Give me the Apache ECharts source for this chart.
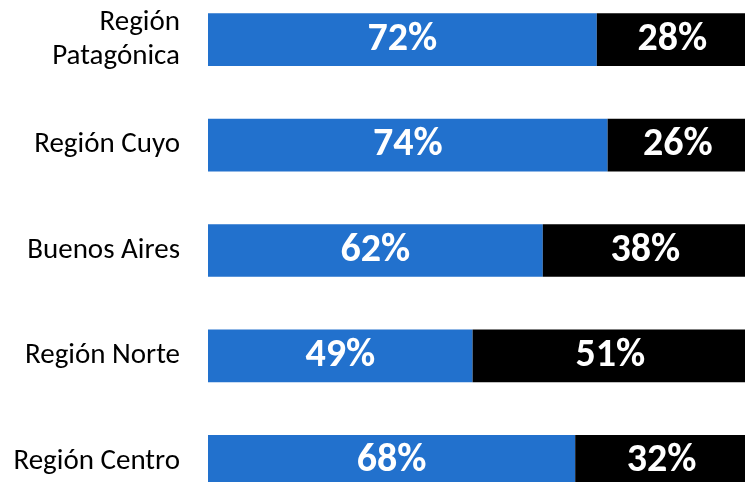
<!DOCTYPE html>
<html><head><meta charset="utf-8">
<script src="https://cdn.jsdelivr.net/npm/echarts@6/dist/echarts.min.js"></script>
<style>html,body{margin:0;padding:0;background:#fff}#c{width:745px;height:482px}</style>
</head><body><div id="c"></div>
<script>
const categories = ['Región\nPatagónica', 'Región Cuyo', 'Buenos Aires', 'Región Norte', 'Región Centro'];
const blueValues = [72, 74, 62, 49, 68];
const blackValues = [28, 26, 38, 51, 32];

const FONT = 'Carlito, Lato, sans-serif';
const chart = echarts.init(document.getElementById('c'), null, {renderer: 'canvas'});
const labelStyle = {
  show: true, position: 'inside', color: '#fff', fontFamily: FONT,
  fontWeight: 'bold', fontSize: 40, padding: [4, 0, 0, 0], formatter: p => p.value + '%'
};
chart.setOption({
  animation: false,
  grid: {left: 208, width: 540, top: -13, height: 527, containLabel: false, outerBoundsMode: 'none'},
  xAxis: {type: 'value', min: 0, max: 100, show: false},
  yAxis: {
    type: 'category', data: categories, inverse: true,
    axisLine: {show: false}, axisTick: {show: false},
    axisLabel: {color: '#000', fontFamily: FONT, fontSize: 29, margin: 28, lineHeight: 34,
                align: 'right', padding: [5, 0, 0, 0]}
  },
  series: [
    {type: 'bar', stack: 't', data: blueValues, barCategoryGap: '50%',
     itemStyle: {color: '#2271CD'}, label: labelStyle},
    {type: 'bar', stack: 't', data: blackValues,
     itemStyle: {color: '#000'}, label: labelStyle}
  ]
});
</script></body></html>
